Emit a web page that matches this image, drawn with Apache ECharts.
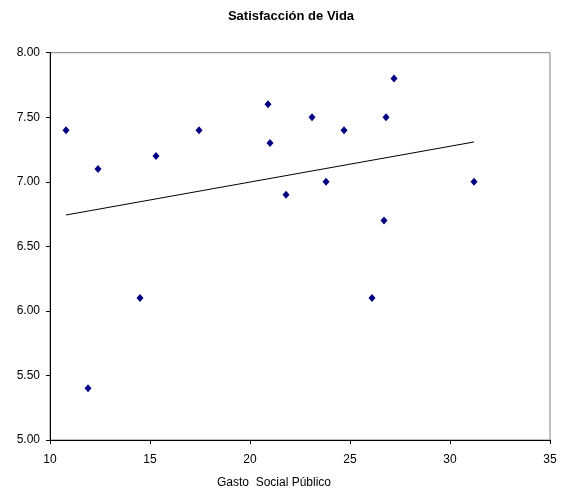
<!DOCTYPE html>
<html>
<head>
<meta charset="utf-8">
<script src="https://cdn.jsdelivr.net/npm/echarts@6/dist/echarts.min.js"></script>
<style>
  html, body { margin: 0; padding: 0; background: #fff; }
  #chart { width: 562px; height: 489px; }
</style>
</head>
<body>
<div id="chart"></div>
<script>
// Public social spending (x) vs. life satisfaction (y), one point per country
const gastoSocial = [10.8, 12.4, 15.3, 17.45, 20.9, 21.0, 21.8, 27.2, 23.1, 26.8, 24.7, 23.8, 31.2, 26.7, 11.9, 14.5, 26.1];
const satisfaccion = [7.4, 7.1, 7.2, 7.4, 7.6, 7.3, 6.9, 7.8, 7.5, 7.5, 7.4, 7.0, 7.0, 6.7, 5.4, 6.1, 6.1];

const chartTitle = 'Satisfacción de Vida';
const xAxisTitle = 'Gasto  Social Público';

const points = gastoSocial.map((x, i) => [x, satisfaccion[i]]);

// Least-squares trend line across the observed x range
function linearFit(xs, ys) {
  const n = xs.length;
  const mx = xs.reduce((a, b) => a + b, 0) / n;
  const my = ys.reduce((a, b) => a + b, 0) / n;
  let sxy = 0, sxx = 0;
  for (let i = 0; i < n; i++) {
    sxy += (xs[i] - mx) * (ys[i] - my);
    sxx += (xs[i] - mx) * (xs[i] - mx);
  }
  const slope = sxy / sxx;
  return { slope, intercept: my - slope * mx };
}
const fit = linearFit(gastoSocial, satisfaccion);
const xMin = Math.min(...gastoSocial);
const xMax = Math.max(...gastoSocial);
const trend = [
  [xMin, fit.intercept + fit.slope * xMin],
  [xMax, fit.intercept + fit.slope * xMax]
];

const font = '"Liberation Sans", Arial, sans-serif';
const chart = echarts.init(document.getElementById('chart'), null, { renderer: 'canvas' });

chart.setOption({
  backgroundColor: '#ffffff',
  animation: false,
  title: {
    text: chartTitle,
    left: 286,
    top: 5,
    textAlign: 'center',
    textStyle: { fontFamily: font, fontSize: 13, fontWeight: 'bold', color: '#000' }
  },
  grid: {
    left: 50, right: 12, top: 52.7, bottom: 49,
    outerBoundsMode: 'none',
    containLabel: false,
    show: true, borderColor: '#808080', borderWidth: 1, backgroundColor: '#fff'
  },
  xAxis: {
    type: 'value',
    min: 10, max: 35, interval: 5,
    name: xAxisTitle,
    nameLocation: 'middle',
    nameGap: 37,
    nameTextStyle: { fontFamily: font, fontSize: 12, color: '#000', padding: [0, 52, 0, 0] },
    axisLine: { show: true, onZero: false, lineStyle: { color: '#000', width: 1 } },
    axisTick: { show: true, inside: false, length: 4, lineStyle: { color: '#000' } },
    axisLabel: { fontFamily: font, fontSize: 12, color: '#000', margin: 14 },
    splitLine: { show: false }
  },
  yAxis: {
    type: 'value',
    min: 5, max: 8, interval: 0.5,
    axisLine: { show: true, onZero: false, lineStyle: { color: '#000', width: 1 } },
    axisTick: { show: true, inside: false, length: 4, lineStyle: { color: '#000' } },
    axisLabel: { fontFamily: font, fontSize: 12, color: '#000', margin: 10,
      formatter: v => v.toFixed(2) },
    splitLine: { show: false }
  },
  series: [
    {
      type: 'scatter',
      data: points,
      symbol: 'diamond',
      symbolSize: [7, 8],
      itemStyle: { color: '#000080', opacity: 1 },
      z: 3
    },
    {
      type: 'line',
      data: trend,
      symbol: 'none',
      lineStyle: { color: '#000', width: 1 },
      z: 2
    }
  ]
});
</script>
</body>
</html>
